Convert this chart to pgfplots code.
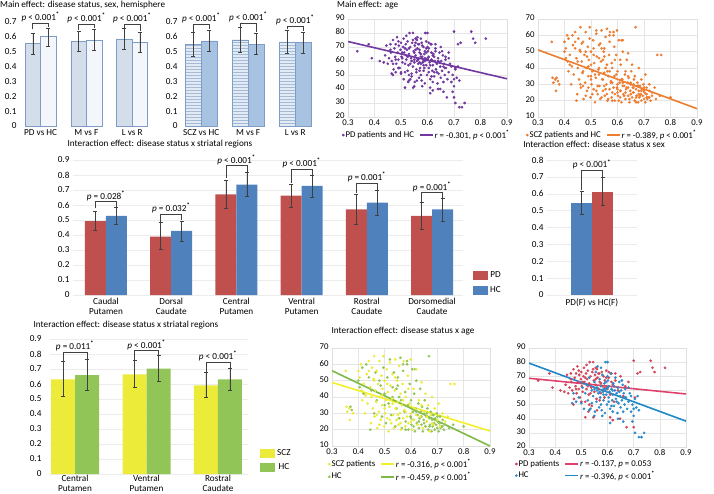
\documentclass[border=0pt]{standalone}
\usepackage{fontspec}
\setmainfont{Carlito}
\usepackage{pgfplots}
\usepackage{pgfplotstable}
\pgfplotsset{compat=1.18}
\usetikzlibrary{calc,patterns}

\definecolor{purp}{HTML}{7038A0}
\definecolor{orng}{HTML}{ED7D31}
\definecolor{pdred}{HTML}{C0504D}
\definecolor{hcblue}{HTML}{4F81BD}
\definecolor{sczy}{HTML}{EDEB3A}
\definecolor{hcg}{HTML}{92C558}
\definecolor{lny}{HTML}{F2F02A}
\definecolor{lng}{HTML}{7DBA45}
\definecolor{sred}{HTML}{D4475A}
\definecolor{lnr}{HTML}{E0406A}
\definecolor{sblue}{HTML}{2E8BC9}
\definecolor{lnb}{HTML}{1E88C8}
\definecolor{edgeb}{HTML}{7E9CC5}
\definecolor{aleft}{HTML}{D3DEEA}
\definecolor{aright}{HTML}{F3F6FA}
\definecolor{bleft}{HTML}{E2EAF3}
\definecolor{bright}{HTML}{A8C2E2}

\newcommand\fs{\fontsize{9.2}{10}\selectfont}
\newcommand\lfs{\fontsize{8.8}{10}\selectfont}
\newcommand\pl[2]{\textit{p} #1 #2\textsuperscript{\textbf{*}}}
% bracket: left x, right x, left leg y, top y, right leg y, label
\newcommand\brk[6]{%
  \draw[black!75, line width=0.8pt] (axis cs:#1,#3) -- (axis cs:#1,#4) -- (axis cs:#2,#4) -- (axis cs:#2,#5);
  \node[font=\fs, anchor=south, inner sep=1pt] at ($(axis cs:#1,#4)!0.5!(axis cs:#2,#4)$) {#6};}

\pgfplotsset{
  base/.style={scale only axis, anchor=south west, major tick length=0pt,
    tick label style={font=\fs}, /pgf/number format/assume math mode=true},
  barax/.style={base, clip=false, axis line style={draw=none}, ymin=0, ybar=0pt,
    yticklabel style={/pgf/number format/fixed, /pgf/number format/precision=1},
    xtick={0,1,2,3,4,5}, x tick label style={align=center},
    error bars/y dir=both, error bars/y explicit,
    error bars/error bar style={line width=0.6pt, black!75},
    error bars/error mark options={rotate=90, mark size=2pt, line width=0.6pt, black!75}},
  bl/.style={legend image code/.code={\fill[##1] (0pt,-4.5pt) rectangle (15pt,4.5pt);}},
  sl/.style={legend image code/.code={\draw[##1] plot coordinates {(0pt,0pt)};}},
  ll/.style={legend image code/.code={\draw[##1] (0pt,0pt) -- (13pt,0pt);}},
  pts/.style={only marks, mark=*, mark size=1.15pt},
  rl/.style={line width=1.6pt},
  scat/.style={base, xmin=0.3, xmax=0.9, xtick={0.3,0.4,0.5,0.6,0.7,0.8,0.9},
    grid=major, grid style={gray!20}, axis line style={gray!25},
    tick label style={font=\lfs}, yticklabel style={yshift=1pt},
    xticklabel style={/pgf/number format/fixed, /pgf/number format/precision=1,
      /pgf/number format/fixed zerofill, inner sep=1pt, yshift=-1.5pt},
    legend cell align=left,
    legend style={draw=none, fill=none, font=\lfs, inner sep=0pt, nodes={inner sep=1pt},
      row sep=1pt, legend columns=2, /tikz/every even column/.append style={column sep=4pt}}},
}

% PD study: PD patients
\pgfplotstableread[row sep=\\]{x y\\
0.335 67\\0.378 72\\0.390 62\\0.420 60\\0.435 59\\0.440 64\\0.445 71\\0.450 58\\0.455 62\\0.460 72\\
0.462 66\\0.465 60\\0.470 75\\0.472 54\\0.475 69\\0.478 63\\0.480 72\\0.482 58\\0.485 77\\0.488 66\\
0.490 61\\0.492 71\\0.495 55\\0.498 68\\0.500 73\\0.502 63\\0.505 59\\0.508 70\\0.510 76\\0.512 66\\
0.515 52\\0.518 72\\0.520 61\\0.522 68\\0.525 74\\0.528 57\\0.530 65\\0.532 80\\0.535 70\\0.538 62\\
0.540 49\\0.542 73\\0.545 80\\0.548 67\\0.550 59\\0.552 71\\0.555 64\\0.558 54\\0.560 75\\0.562 69\\
0.565 61\\0.568 72\\0.570 66\\0.575 58\\0.578 73\\0.580 63\\0.585 70\\0.588 55\\0.590 67\\0.595 74\\
0.600 61\\0.605 69\\0.610 57\\0.615 72\\0.620 64\\0.625 52\\0.630 67\\0.640 60\\0.650 70\\0.660 56\\
0.668 63\\0.680 66\\0.700 81\\0.705 55\\0.715 72\\0.725 73\\0.765 81\\0.772 76\\0.780 73\\0.820 76\\
0.515 41\\0.527 45\\0.546 41\\0.560 46\\0.610 41\\0.620 39\\0.648 40\\0.673 34\\0.700 34\\0.530 50\\
0.500 52\\0.470 50\\0.505 66\\0.515 69\\0.525 63\\0.535 58\\0.545 75\\0.555 68\\0.565 72\\0.575 65\\
0.585 60\\0.595 69\\0.605 73\\0.615 66\\0.460 68\\0.480 61\\0.490 74\\0.520 78\\0.555 76\\0.570 53\\
0.590 62\\0.630 72\\}\pdpts
% PD study: healthy controls
\pgfplotstableread[row sep=\\]{x y\\
0.465 51\\0.470 58\\0.480 52\\0.490 55\\0.500 51\\0.505 62\\0.510 47\\0.515 58\\0.520 64\\0.525 53\\
0.530 69\\0.535 47\\0.540 60\\0.545 56\\0.550 66\\0.552 45\\0.555 73\\0.558 52\\0.560 62\\0.562 77\\
0.565 58\\0.568 48\\0.570 68\\0.572 55\\0.575 63\\0.578 46\\0.580 71\\0.582 59\\0.585 53\\0.588 65\\
0.590 60\\0.592 80\\0.595 57\\0.598 50\\0.600 62\\0.602 67\\0.605 55\\0.608 59\\0.610 47\\0.612 72\\
0.615 61\\0.618 53\\0.620 57\\0.622 65\\0.625 49\\0.628 60\\0.630 69\\0.632 54\\0.635 58\\0.638 44\\
0.640 62\\0.642 51\\0.645 66\\0.648 56\\0.650 48\\0.652 60\\0.655 53\\0.658 64\\0.660 45\\0.662 58\\
0.665 50\\0.668 61\\0.670 55\\0.675 47\\0.680 52\\0.685 58\\0.690 45\\0.695 50\\0.700 42\\0.705 54\\
0.710 48\\0.715 56\\0.720 46\\0.705 30\\0.720 27\\0.730 27\\0.740 30\\0.695 38\\0.610 37\\0.600 80\\
0.575 76\\0.550 42\\0.580 42\\0.640 40\\0.660 38\\0.530 46\\0.560 60\\0.595 61\\0.605 63\\0.585 61\\
0.570 59\\0.620 60\\0.575 50\\0.585 57\\0.595 66\\0.605 52\\0.615 49\\0.625 63\\0.635 52\\0.645 59\\
0.655 67\\0.665 55\\0.590 44\\0.620 45\\0.600 70\\0.550 61\\0.540 51\\0.680 62\\0.690 56\\0.700 47\\}\pdhc
% SCZ study: SCZ patients
\pgfplotstableread[row sep=\\]{x y\\
0.352 56\\0.355 34\\0.358 31\\0.365 33\\0.368 26\\0.380 30\\0.400 56\\0.405 52\\0.410 60\\0.412 44\\
0.415 38\\0.420 48\\0.425 30\\0.428 41\\0.432 54\\0.435 36\\0.440 62\\0.445 46\\0.448 24\\0.450 40\\
0.452 58\\0.455 33\\0.458 51\\0.460 65\\0.462 28\\0.465 44\\0.468 37\\0.470 56\\0.472 21\\0.475 48\\
0.478 31\\0.480 62\\0.482 40\\0.485 26\\0.488 53\\0.490 35\\0.492 45\\0.495 65\\0.498 22\\0.500 50\\
0.502 30\\0.505 38\\0.508 57\\0.510 27\\0.512 43\\0.515 19\\0.518 34\\0.520 61\\0.522 47\\0.525 24\\
0.528 39\\0.530 54\\0.532 29\\0.535 21\\0.538 44\\0.540 63\\0.542 33\\0.545 26\\0.548 50\\0.550 37\\
0.552 23\\0.555 59\\0.558 30\\0.560 42\\0.562 20\\0.565 35\\0.568 48\\0.570 27\\0.572 62\\0.575 32\\
0.578 22\\0.580 40\\0.585 28\\0.588 53\\0.590 24\\0.595 36\\0.598 63\\0.600 30\\0.605 20\\0.610 45\\
0.612 26\\0.615 33\\0.620 57\\0.625 23\\0.630 38\\0.635 28\\0.640 49\\0.645 21\\0.650 31\\0.655 42\\
0.660 25\\0.665 35\\0.670 19\\0.675 29\\0.680 40\\0.685 23\\0.690 33\\0.700 26\\0.705 36\\0.710 22\\
0.720 30\\0.730 25\\0.750 48\\0.765 48\\0.740 28\\0.470 29\\0.480 23\\0.490 41\\0.500 33\\0.510 48\\
0.520 26\\0.530 36\\0.540 52\\0.550 29\\0.560 24\\0.570 38\\0.580 31\\0.590 45\\0.600 25\\0.620 29\\
0.640 35\\0.660 28\\0.680 24\\0.460 50\\0.440 56\\}\sczpts
% SCZ study: healthy controls
\pgfplotstableread[row sep=\\]{x y\\
0.370 34\\0.375 32\\0.400 50\\0.405 46\\0.415 58\\0.420 42\\0.430 60\\0.440 52\\0.445 20\\0.450 44\\
0.460 30\\0.465 55\\0.470 38\\0.480 50\\0.485 47\\0.490 28\\0.495 58\\0.500 42\\0.505 24\\0.510 52\\
0.515 36\\0.520 63\\0.525 29\\0.530 46\\0.535 55\\0.540 22\\0.545 33\\0.550 47\\0.555 27\\0.560 64\\
0.562 38\\0.565 21\\0.570 56\\0.575 31\\0.578 43\\0.580 25\\0.585 62\\0.588 35\\0.590 20\\0.595 48\\
0.598 28\\0.600 38\\0.602 23\\0.605 57\\0.608 31\\0.610 26\\0.612 42\\0.615 19\\0.618 33\\0.620 50\\
0.622 24\\0.625 29\\0.628 36\\0.630 21\\0.632 27\\0.635 45\\0.638 31\\0.640 23\\0.642 34\\0.645 19\\
0.648 26\\0.650 30\\0.652 38\\0.655 22\\0.658 28\\0.660 25\\0.662 33\\0.665 20\\0.668 65\\0.670 27\\
0.672 23\\0.675 31\\0.678 19\\0.680 26\\0.682 22\\0.685 29\\0.688 24\\0.690 20\\0.692 27\\0.695 23\\
0.698 30\\0.700 21\\0.702 25\\0.705 19\\0.708 24\\0.710 28\\0.712 21\\0.715 22\\0.720 26\\0.725 20\\
0.730 23\\0.745 21\\0.760 23\\0.800 22\\0.585 60\\0.555 40\\0.615 57\\0.545 45\\0.600 27\\0.610 22\\
0.620 31\\0.630 25\\0.640 28\\0.650 24\\0.660 30\\0.670 22\\0.680 29\\0.690 26\\0.700 28\\0.710 24\\
0.720 22\\0.550 52\\0.570 60\\0.530 40\\0.500 35\\0.580 20\\}\sczhc

\begin{document}
\begin{tikzpicture}
\path[use as bounding box] (0,0) rectangle (714pt,493pt);

% titles
\node[font=\fs, anchor=west, inner sep=0pt] at (0pt,488pt) {Main effect: disease status, sex, hemisphere};
\node[font=\fs, anchor=west, inner sep=0pt] at (337pt,488pt) {Main effect: age};
\node[font=\fs, inner sep=0pt] at (160pt,349pt) {Interaction effect: disease status x striatal regions};
\node[font=\fs, inner sep=0pt] at (594pt,349pt) {Interaction effect: disease status x sex};
\node[font=\fs, inner sep=0pt] at (126pt,168pt) {Interaction effect: disease status x striatal regions};
\node[font=\fs, inner sep=0pt] at (403pt,162pt) {Interaction effect: disease status x age};

% main effects, PD study
\begin{axis}[barax, at={(20pt,367pt)}, width=132.8pt, height=104pt,
  ymax=0.7, ytick={0,0.1,0.2,0.3,0.4,0.5,0.6,0.7}, xmin=-0.45, xmax=2.45,
  bar width=15.5pt, xticklabels={PD vs HC, M vs F, L vs R}]
\addplot[draw=edgeb, fill=aleft, line width=0.6pt] coordinates {
  (0,0.555) += (0,0.067) -= (0,0.075)
  (1,0.568) += (0,0.070) -= (0,0.065)
  (2,0.586) += (0,0.069) -= (0,0.067)};
\addplot[draw=edgeb, fill=aright, line width=0.6pt] coordinates {
  (0,0.604) += (0,0.054) -= (0,0.065)
  (1,0.579) += (0,0.072) -= (0,0.071)
  (2,0.562) += (0,0.067) -= (0,0.067)};
\brk{-0.169}{0.169}{0.65}{0.693}{0.665}{\pl{<}{0.001}}
\brk{0.831}{1.169}{0.645}{0.686}{0.658}{\pl{<}{0.001}}
\brk{1.831}{2.169}{0.66}{0.686}{0.64}{\pl{<}{0.001}}
\end{axis}

% main effects, SCZ study
\begin{axis}[barax, at={(181pt,367pt)}, width=134.4pt, height=104pt,
  ymax=0.7, ytick={0,0.1,0.2,0.3,0.4,0.5,0.6,0.7}, xmin=-0.43, xmax=2.43,
  bar width=16pt, xticklabels={SCZ vs HC, M vs F, L vs R}]
\addplot[draw=edgeb, fill=bleft, line width=0.6pt,
  postaction={pattern=horizontal lines, pattern color=edgeb!70}] coordinates {
  (0,0.548) += (0,0.081) -= (0,0.080)
  (1,0.579) += (0,0.083) -= (0,0.080)
  (2,0.566) += (0,0.078) -= (0,0.078)};
\addplot[draw=edgeb, fill=bright, line width=0.6pt] coordinates {
  (0,0.573) += (0,0.073) -= (0,0.070)
  (1,0.550) += (0,0.072) -= (0,0.069)
  (2,0.565) += (0,0.068) -= (0,0.073)};
\brk{-0.17}{0.17}{0.635}{0.685}{0.652}{\pl{<}{0.001}}
\brk{0.83}{1.17}{0.668}{0.690}{0.63}{\pl{<}{0.001}}
\brk{1.83}{2.17}{0.65}{0.672}{0.64}{\pl{<}{0.001}}
\end{axis}

% age, PD study
\begin{axis}[scat, at={(348pt,376pt)}, width=159pt, height=98pt,
  ymin=20, ymax=90, ytick={20,30,40,50,60,70,80,90},
  legend style={at={(0,0)}, anchor=north west, yshift=-12pt, xshift=-6pt}]
\addplot[pts, purp, forget plot] table {\pdpts};
\addplot[pts, purp, forget plot] table {\pdhc};
\addplot[rl, purp, forget plot] coordinates {(0.3,73.9) (0.9,47.3)};
\addlegendimage{pts, purp, sl}
\addlegendentry{PD patients and HC}
\addlegendimage{rl, purp, ll}
\addlegendentry{\textit{r} = -0.301, \pl{<}{0.001}}
\end{axis}

% age, SCZ study
\begin{axis}[scat, at={(538pt,376pt)}, width=159pt, height=98pt,
  ymin=10, ymax=70, ytick={10,20,30,40,50,60,70},
  legend style={at={(0,0)}, anchor=north west, yshift=-12pt, xshift=-12pt}]
\addplot[pts, orng, forget plot] table {\sczpts};
\addplot[pts, orng, forget plot] table {\sczhc};
\addplot[rl, orng, forget plot] coordinates {(0.3,51.1) (0.9,15.1)};
\addlegendimage{pts, orng, sl}
\addlegendentry{SCZ patients and HC}
\addlegendimage{rl, orng, ll}
\addlegendentry{\textit{r} = -0.389, \pl{<}{0.001}}
\end{axis}

% disease status x striatal regions, PD study
\begin{axis}[barax, at={(73pt,198pt)}, width=390pt, height=135pt,
  ymax=0.9, ytick={0,0.1,0.2,0.3,0.4,0.5,0.6,0.7,0.8,0.9}, ymajorgrids, grid style={gray!15},
  xmin=-0.506, xmax=5.475, bar width=21pt,
  xticklabels={Caudal\\Putamen, Dorsal\\Caudate, Central\\Putamen, Ventral\\Putamen, Rostral\\Caudate, Dorsomedial\\Caudate},
  legend style={at={(1,0)}, anchor=south west, xshift=10pt, yshift=-1pt, draw=none, fill=none,
    font=\fs, inner sep=0pt, row sep=3pt}]
\addplot[bl, draw=none, fill=pdred] coordinates {
  (0,0.493) += (0,0.062) -= (0,0.064)
  (1,0.389) += (0,0.095) -= (0,0.085)
  (2,0.671) += (0,0.096) -= (0,0.093)
  (3,0.662) += (0,0.078) -= (0,0.078)
  (4,0.571) += (0,0.102) -= (0,0.098)
  (5,0.527) += (0,0.089) -= (0,0.089)};
\addplot[bl, draw=none, fill=hcblue] coordinates {
  (0,0.527) += (0,0.057) -= (0,0.056)
  (1,0.427) += (0,0.066) -= (0,0.071)
  (2,0.736) += (0,0.080) -= (0,0.080)
  (3,0.727) += (0,0.073) -= (0,0.076)
  (4,0.616) += (0,0.084) -= (0,0.085)
  (5,0.571) += (0,0.076) -= (0,0.078)};
\addlegendentry{PD}
\addlegendentry{HC}
\brk{-0.161}{0.161}{0.578}{0.622}{0.59}{\textit{p} = 0.028\textsuperscript{\textbf{*}}}
\brk{0.839}{1.161}{0.49}{0.538}{0.50}{\textit{p} = 0.032\textsuperscript{\textbf{*}}}
\brk{1.839}{2.161}{0.78}{0.862}{0.82}{\pl{<}{0.001}}
\brk{2.839}{3.161}{0.75}{0.838}{0.80}{\pl{<}{0.001}}
\brk{3.839}{4.161}{0.68}{0.745}{0.70}{\textit{p} = 0.001\textsuperscript{\textbf{*}}}
\brk{4.839}{5.161}{0.62}{0.682}{0.65}{\textit{p} = 0.001\textsuperscript{\textbf{*}}}
\end{axis}

% disease status x sex, PD study
\begin{axis}[barax, at={(547pt,198pt)}, width=90pt, height=135pt,
  ymax=0.8, ytick={0,0.1,0.2,0.3,0.4,0.5,0.6,0.7,0.8}, ymajorgrids, grid style={gray!15},
  xmin=-1, xmax=1, xtick={0}, bar width=21pt, xticklabels={PD(F) vs HC(F)}]
\addplot[draw=none, fill=hcblue] coordinates {(0,0.547) += (0,0.069) -= (0,0.069)};
\addplot[draw=none, fill=pdred] coordinates {(0,0.610) += (0,0.087) -= (0,0.077)};
\brk{-0.233}{0.233}{0.62}{0.737}{0.70}{\pl{<}{0.001}}
\end{axis}

% disease status x striatal regions, SCZ study
\begin{axis}[barax, at={(50pt,19pt)}, width=198pt, height=135pt,
  ymax=0.9, ytick={0,0.1,0.2,0.3,0.4,0.5,0.6,0.7,0.8,0.9}, ymajorgrids, grid style={gray!15},
  yticklabel style={xshift=-5pt}, xticklabel style={yshift=2.5pt},
  xmin=-0.35, xmax=2.42, bar width=24pt,
  xticklabels={Central\\Putamen, Ventral\\Putamen, Rostral\\Caudate},
  legend style={at={(1,0)}, anchor=south west, xshift=12pt, yshift=1pt, draw=none, fill=none,
    font=\fs, inner sep=0pt, row sep=2pt}]
\addplot[bl, draw=none, fill=sczy] coordinates {
  (0,0.631) += (0,0.118) -= (0,0.111)
  (1,0.664) += (0,0.091) -= (0,0.088)
  (2,0.591) += (0,0.085) -= (0,0.082)};
\addplot[bl, draw=none, fill=hcg] coordinates {
  (0,0.660) += (0,0.107) -= (0,0.102)
  (1,0.702) += (0,0.087) -= (0,0.084)
  (2,0.631) += (0,0.073) -= (0,0.073)};
\addlegendentry{SCZ}
\addlegendentry{HC}
\brk{-0.168}{0.168}{0.75}{0.811}{0.77}{\textit{p} = 0.011\textsuperscript{\textbf{*}}}
\brk{0.832}{1.168}{0.76}{0.822}{0.79}{\pl{<}{0.001}}
\brk{1.832}{2.168}{0.68}{0.744}{0.705}{\pl{<}{0.001}}
\end{axis}

% disease status x age, SCZ study
\begin{axis}[scat, at={(332pt,47pt)}, width=158pt, height=98pt,
  ymin=10, ymax=70, ytick={10,20,30,40,50,60,70},
  legend style={at={(0,0)}, anchor=north west, yshift=-12pt, xshift=-4pt}]
\addplot[pts, hcg, forget plot] table {\sczhc};
\addplot[pts, sczy, forget plot] table {\sczpts};
\addplot[rl, lny, forget plot] coordinates {(0.3,48.9) (0.9,19.2)};
\addplot[rl, lng, forget plot] coordinates {(0.3,56.1) (0.9,10.0)};
\addlegendimage{pts, sczy, sl}
\addlegendentry{SCZ patients}
\addlegendimage{rl, lny, ll}
\addlegendentry{\textit{r} = -0.316, \pl{<}{0.001}}
\addlegendimage{pts, hcg, sl}
\addlegendentry{HC}
\addlegendimage{rl, lng, ll}
\addlegendentry{\textit{r} = -0.459, \pl{<}{0.001}}
\end{axis}

% disease status x age, PD study
\begin{axis}[scat, at={(529pt,46pt)}, width=157pt, height=99pt,
  ymin=20, ymax=90, ytick={20,30,40,50,60,70,80,90},
  legend style={at={(0,0)}, anchor=north west, yshift=-12pt, xshift=-14pt}]
\addplot[pts, sred, forget plot] table {\pdpts};
\addplot[pts, sblue, forget plot] table {\pdhc};
\addplot[rl, lnr, forget plot] coordinates {(0.3,68.6) (0.9,57.5)};
\addplot[rl, lnb, forget plot] coordinates {(0.3,79.3) (0.9,38.3)};
\addlegendimage{pts, sred, sl}
\addlegendentry{PD patients}
\addlegendimage{rl, lnr, ll}
\addlegendentry{\textit{r} = -0.137, \textit{p} = 0.053}
\addlegendimage{pts, sblue, sl}
\addlegendentry{HC}
\addlegendimage{rl, lnb, ll}
\addlegendentry{\textit{r} = -0.396, \pl{<}{0.001}}
\end{axis}
\end{tikzpicture}
\end{document}
